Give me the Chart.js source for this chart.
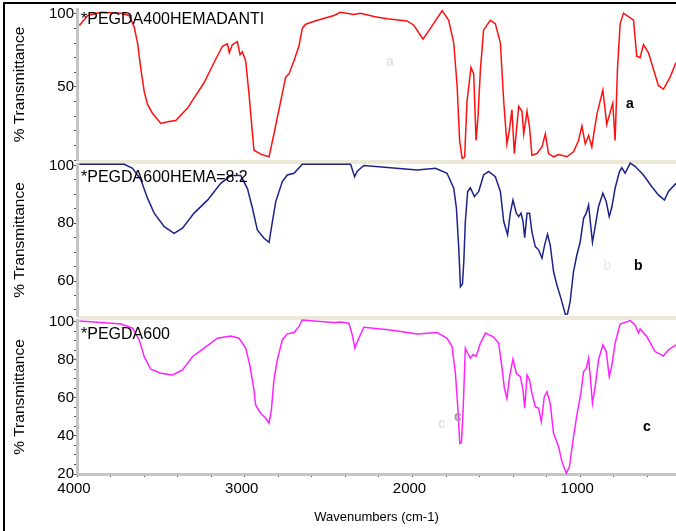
<!DOCTYPE html>
<html>
<head>
<meta charset="utf-8">
<script src="https://cdn.jsdelivr.net/npm/chart.js@4.4.0/dist/chart.umd.min.js"></script>
<style>
  body { margin: 0; background: #fff; overflow: hidden; }
  #wrap { position: relative; width: 676px; height: 531px; overflow: hidden; background: #fff; }
  #frame { position: absolute; left: 3px; top: 2px; width: 800px; height: 700px; border: 2px solid #000; }
  canvas { position: absolute; left: 0; top: 0; }
  .band { position: absolute; left: 77px; width: 620px; height: 4px; background: #ece9d8; }
  .name { position: absolute; left: 81px; font: 16px "Liberation Sans Narrow", "Arial Narrow", "Liberation Sans", sans-serif; color: #000; line-height: 16px; }
  .tag { position: absolute; font: bold 14px "Liberation Sans", Arial, sans-serif; line-height: 14px; }
</style>
</head>
<body>
<div id="wrap">
  <div id="frame"></div>
  <div class="band" style="top:160px"></div>
  <div class="band" style="top:316px"></div>
  <canvas id="cA" width="676" height="531"></canvas>
  <canvas id="cB" width="676" height="531"></canvas>
  <canvas id="cC" width="676" height="531"></canvas>
  <div class="name" style="top:11px">*PEGDA400HEMADANTI</div>
  <div class="name" style="top:169px">*PEGDA600HEMA=8:2</div>
  <div class="name" style="top:326px">*PEGDA600</div>
  <div class="tag" style="left:386px;top:54px;color:#e4e4e4">a</div>
  <div class="tag" style="left:626px;top:96px">a</div>
  <div class="tag" style="left:603px;top:258px;color:#eeeeee">b</div>
  <div class="tag" style="left:634px;top:258px">b</div>
  <div class="tag" style="left:438px;top:416px;color:#e2e2e2">c</div>
  <div class="tag" style="left:454px;top:409px;color:#a0a0a0">c</div>
  <div class="tag" style="left:643px;top:419px">c</div>
</div>
<script>
// wavenumbers (cm-1) and % transmittance
const wnA = [3986, 3936, 3857, 3738, 3690, 3659, 3639, 3619, 3599, 3579, 3550, 3500, 3460, 3411, 3341, 3242, 3183, 3133, 3103, 3092, 3074, 3044, 3028, 3014, 2994, 2974, 2945, 2905, 2855, 2826, 2786, 2756, 2736, 2707, 2677, 2657, 2637, 2567, 2468, 2429, 2350, 2310, 2230, 2151, 2032, 1992, 1937, 1893, 1823, 1784, 1754, 1734, 1719, 1704, 1689, 1675, 1651, 1635, 1621, 1609, 1595, 1576, 1536, 1506, 1476, 1456, 1437, 1423, 1407, 1393, 1367, 1347, 1337, 1317, 1302, 1288, 1258, 1228, 1208, 1189, 1159, 1129, 1079, 1040, 1010, 990, 970, 950, 931, 901, 865, 842, 806, 792, 778, 762, 742, 682, 663, 643, 623, 593, 534, 504, 464, 429];
const tA = [92, 98.9, 101, 100.4, 98.9, 91, 80, 62, 46.7, 37.8, 32, 25, 26.2, 27, 35.5, 53, 66.7, 77.8, 79.5, 73.3, 78.9, 81, 72, 74, 67.8, 44.4, 6.7, 4, 2.2, 17.8, 40, 56.7, 58.9, 67.8, 77.8, 90, 92.9, 95.6, 98.9, 101, 99.6, 100.4, 98.2, 96.7, 95.1, 92.2, 82.7, 90, 102.2, 95.6, 80, 51, 13.3, 1.1, 2, 40, 63.3, 58.9, 13.3, 30, 62, 89, 95.6, 93.3, 80, 40, 11, 20, 34.4, 4.4, 36.7, 33.3, 17.8, 33.3, 22.2, 3.3, 4.4, 8.9, 17.8, 4.4, 2.2, 3.8, 2.2, 5.6, 13.3, 23.3, 11, 16.7, 8.9, 31, 47.8, 24.4, 38.9, 13.3, 62, 93.3, 100.4, 95.6, 71, 70, 78.9, 73.3, 51, 48.4, 56.7, 66.7];

const wnB = [3986, 3718, 3669, 3619, 3579, 3540, 3480, 3421, 3371, 3302, 3222, 3143, 3083, 3024, 2984, 2954, 2925, 2885, 2855, 2835, 2815, 2776, 2746, 2706, 2657, 2488, 2369, 2345, 2329, 2290, 2131, 1972, 1863, 1794, 1754, 1738, 1724, 1714, 1702, 1694, 1685, 1671, 1655, 1631, 1605, 1576, 1546, 1506, 1476, 1456, 1433, 1417, 1401, 1381, 1367, 1353, 1341, 1331, 1317, 1302, 1288, 1268, 1248, 1228, 1212, 1195, 1179, 1159, 1139, 1115, 1089, 1076, 1060, 1040, 1020, 1000, 980, 964, 950, 940, 927, 911, 891, 865, 845, 827, 811, 792, 766, 752, 732, 702, 673, 623, 574, 534, 498, 474, 429];
const tB = [100.4, 100.4, 99, 95, 88.6, 83.5, 78.8, 76.5, 78.3, 83.5, 88, 93.8, 96.5, 96.5, 92, 85.2, 77.7, 74.8, 73.4, 80.6, 87.5, 94.4, 96.7, 97.3, 100.4, 100.4, 100.4, 96.1, 98, 100, 99.2, 98.4, 99, 97.3, 92.1, 85.2, 71.3, 58, 59, 66.7, 80.5, 91, 92.3, 89.2, 91, 96.7, 97.9, 96.1, 91, 80.6, 76, 83.5, 88, 83.5, 82.3, 83.5, 80.6, 75, 83.5, 83.5, 77.1, 71.9, 70.8, 67.9, 72.5, 76.2, 72.5, 63.3, 58.6, 54, 48.5, 48.6, 52.9, 63.3, 69, 73.6, 81.7, 83.5, 86.3, 80.6, 73.4, 78.8, 85.7, 90.4, 87.5, 82.3, 85.7, 92.1, 97.9, 99.2, 97.3, 100.8, 99.7, 96.7, 92.7, 89.8, 88, 91, 93.8];

const wnC = [3986, 3857, 3738, 3669, 3629, 3599, 3560, 3500, 3430, 3371, 3312, 3242, 3163, 3083, 3034, 2994, 2968, 2945, 2935, 2905, 2875, 2855, 2841, 2826, 2806, 2776, 2746, 2706, 2677, 2657, 2548, 2468, 2429, 2379, 2359, 2343, 2329, 2290, 2131, 1972, 1853, 1794, 1764, 1744, 1730, 1718, 1708, 1698, 1685, 1671, 1655, 1639, 1621, 1595, 1565, 1516, 1486, 1466, 1452, 1437, 1421, 1401, 1381, 1357, 1341, 1331, 1317, 1302, 1288, 1268, 1248, 1232, 1214, 1198, 1179, 1159, 1129, 1109, 1083, 1064, 1040, 1020, 996, 980, 964, 950, 940, 927, 911, 891, 865, 845, 827, 811, 792, 762, 702, 673, 653, 643, 603, 554, 504, 474, 429];
const tC = [100.5, 99.7, 98.9, 96.7, 90.5, 81.7, 75.1, 73, 72.1, 74.7, 81.7, 86.2, 91.4, 92.6, 91.4, 86.2, 76.5, 64.2, 56.3, 52, 49.3, 46.7, 53.7, 69.5, 80, 90.5, 93.7, 94.4, 97.5, 101, 100.2, 99.7, 100, 99.3, 93.2, 86.2, 89.6, 97.2, 95.8, 93.7, 94.4, 91.4, 87, 73, 55.4, 36.1, 36.7, 53.7, 86.2, 83.5, 80.9, 82.7, 82, 88.8, 94.1, 92, 88.8, 75.6, 65.1, 59.8, 71.2, 80.4, 73, 71.2, 64.2, 54.6, 72.1, 69.5, 62.5, 55.4, 54.6, 47.5, 60.7, 63.3, 57.2, 41.4, 34.4, 26.5, 20.4, 23.9, 39.6, 51, 62.5, 73.8, 75.6, 80.9, 71.2, 57.2, 66, 80, 87.9, 84.4, 71.2, 77.4, 88.8, 98.9, 100.7, 98.4, 94.1, 96.3, 92.3, 84.4, 82.1, 85.3, 87.9];

// axis ticks: tick positions and the ones that carry a label
const xTicks = [4000, 3800, 3600, 3400, 3200, 3000, 2800, 2600, 2400, 2200, 2000, 1800, 1600, 1400, 1200, 1000, 800, 600];
const xLabels = [4000, 3000, 2000, 1000];
const yLabelsA = [50, 100];
const yLabelsB = [60, 80, 100];
const yLabelsC = [20, 40, 60, 80, 100];

const narrow = "'Liberation Sans Narrow', 'Arial Narrow', 'Liberation Sans', sans-serif";

function makeChart(id, wn, t, color, yMin, yMax, step, yLabels, top, bottom, showX) {
    let pts = [];
    for (let i = 0; i < wn.length; i++) pts.push({x: wn[i], y: t[i]});
    const ctx = document.getElementById(id).getContext('2d');
    return new Chart(ctx, {
        type: 'line',
        data: {
            datasets: [{
                data: pts,
                borderColor: color,
                borderWidth: 1.5,
                pointRadius: 0,
                tension: 0,
                clip: 4
            }]
        },
        options: {
            responsive: false,
            animation: false,
            events: [],
            layout: { padding: { left: 6, right: 0, top: top, bottom: bottom } },
            plugins: { legend: { display: false }, tooltip: { enabled: false } },
            scales: {
                x: {
                    type: 'linear',
                    reverse: true,
                    min: 429,
                    max: 4000,
                    display: showX,
                    afterBuildTicks: function(s) { s.ticks = xTicks.map(v => ({value: v})); },
                    afterFit: function(s) { if (showX) s.height = 57; },
                    border: { display: true, color: '#c4c4c4', width: 3 },
                    grid: { drawOnChartArea: false, drawTicks: true, tickLength: 3, color: '#505050' },
                    ticks: {
                        autoSkip: false,
                        maxRotation: 0,
                        padding: 3,
                        labelOffset: -3,
                        color: '#000',
                        font: { family: narrow, size: 15 },
                        callback: function(v) { return xLabels.includes(Math.round(v)) ? String(Math.round(v)) : ''; }
                    },
                    title: {
                        display: true,
                        text: 'Wavenumbers (cm-1)',
                        color: '#000',
                        padding: { top: 6, bottom: 6 },
                        font: { family: "'Liberation Sans', Arial, sans-serif", size: 13 }
                    }
                },
                y: {
                    min: yMin,
                    max: yMax,
                    afterFit: function(s) { s.width = 71; },
                    border: { display: true, color: '#c4c4c4', width: 3 },
                    grid: { drawOnChartArea: false, drawTicks: true, tickLength: 3, color: '#505050' },
                    ticks: {
                        stepSize: step,
                        maxTicksLimit: 100,
                        autoSkip: false,
                        includeBounds: false,
                        padding: 0,
                        color: '#000',
                        font: { family: narrow, size: 15 },
                        callback: function(v) { return yLabels.includes(Math.round(v)) ? String(Math.round(v)) : ''; }
                    },
                    title: {
                        display: true,
                        text: '% Transmittance',
                        color: '#000',
                        padding: { top: 4, bottom: 4 },
                        font: { family: "'Liberation Sans', Arial, sans-serif", size: 15.5 }
                    }
                }
            }
        }
    });
}

makeChart('cA', wnA, tA, '#ff1010', 0, 103.3, 10, yLabelsA, 5, 371, false);
makeChart('cB', wnB, tB, '#1c2388', 47.9, 100.5, 5, yLabelsB, 164, 215, false);
makeChart('cC', wnC, tC, '#ff22ff', 20, 101, 5, yLabelsC, 320, 0, true);
</script>
</body>
</html>
